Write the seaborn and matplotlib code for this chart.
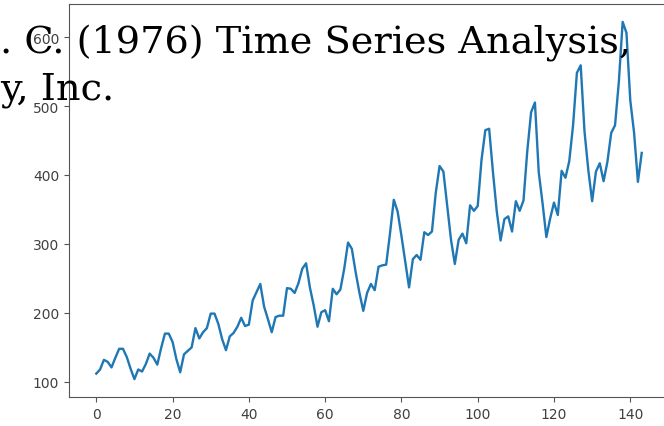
import numpy as np
import pandas as pd
import matplotlib
matplotlib.use("Agg")
import matplotlib.pyplot as plt
import seaborn as sns

# Monthly international airline passengers (thousands), 1949-1960
y1949 = [112, 118, 132, 129, 121, 135, 148, 148, 136, 119, 104, 118]
y1950 = [115, 126, 141, 135, 125, 149, 170, 170, 158, 133, 114, 140]
y1951 = [145, 150, 178, 163, 172, 178, 199, 199, 184, 162, 146, 166]
y1952 = [171, 180, 193, 181, 183, 218, 230, 242, 209, 191, 172, 194]
y1953 = [196, 196, 236, 235, 229, 243, 264, 272, 237, 211, 180, 201]
y1954 = [204, 188, 235, 227, 234, 264, 302, 293, 259, 229, 203, 229]
y1955 = [242, 233, 267, 269, 270, 315, 364, 347, 312, 274, 237, 278]
y1956 = [284, 277, 317, 313, 318, 374, 413, 405, 355, 306, 271, 306]
y1957 = [315, 301, 356, 348, 355, 422, 465, 467, 404, 347, 305, 336]
y1958 = [340, 318, 362, 348, 363, 435, 491, 505, 404, 359, 310, 337]
y1959 = [360, 342, 406, 396, 420, 472, 548, 559, 463, 407, 362, 405]
y1960 = [417, 391, 419, 461, 472, 535, 622, 606, 508, 461, 390, 432]

years = [y1949, y1950, y1951, y1952, y1953, y1954,
         y1955, y1956, y1957, y1958, y1959, y1960]
passengers = [v for yr in years for v in yr]
df = pd.DataFrame({"t": np.arange(len(passengers)), "passengers": passengers})

W, H, DPI = 664, 427, 100
fig = plt.figure(figsize=(W / DPI, H / DPI), dpi=DPI)
ax = fig.add_axes([69 / W, 29 / H, 600 / W, 393 / H])

sns.lineplot(data=df, x="t", y="passengers", ax=ax, color="#1f77b4", linewidth=1.7)
ax.set_xlabel("")
ax.set_ylabel("")
ax.set_xticks([0, 20, 40, 60, 80, 100, 120, 140])
ax.tick_params(labelsize=10, labelcolor="#404040", color="#555555")
for s in ax.spines.values():
    s.set_color("#555555")

# citation text overlaid on the top of the figure
line1 = ". C. (1976) Time Series Analysis,"
line2 = "y, Inc."
serif = ["DejaVu Serif"]
t1 = fig.text(0 / W, 1 - 53 / H, line1, family=serif, fontsize=20,
              va="baseline", ha="left", color="black", zorder=10)
t2 = fig.text(0 / W, 1 - 100 / H, line2, family=serif, fontsize=20,
              va="baseline", ha="left", color="black", zorder=10)

# scale the text so the first line spans the same width as in the layout
fig.canvas.draw()
r = fig.canvas.get_renderer()
w1 = t1.get_window_extent(r).width
scale = 631 / w1
t1.set_fontsize(20 * scale)
t2.set_fontsize(20 * scale)

fig.savefig("out.png", dpi=DPI)
